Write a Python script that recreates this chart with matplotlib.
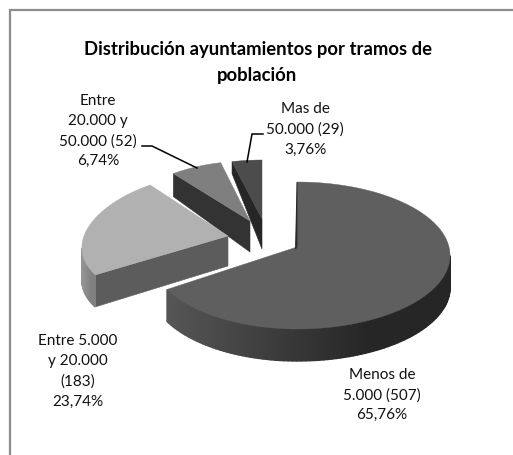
import numpy as np
import matplotlib
matplotlib.use("Agg")
import matplotlib.pyplot as plt
from matplotlib.patches import Polygon

# ---- data ----
categories = ["Menos de\n5.000 (507)\n65,76%",
              "Entre 5.000\ny 20.000\n(183)\n23,74%",
              "Entre\n20.000 y\n50.000 (52)\n6,74%",
              "Mas de\n50.000 (29)\n3,76%"]
values = [507, 183, 52, 29]
title = "Distribución ayuntamientos por tramos de\npoblación"

# ---- styling / projection of each exploded slice ----
top_colors = ["#5f5f5f", "#b1b1b1", "#7f7f7f", "#4c4c4c"]
face_colors = ["#2a2a2a", "#5c5c5c", "#333333", "#262626"]
side_colors = [("#565656", "#262626"), ("#949494", "#808080"), ("#333333", "#333333"), ("#262626", "#262626")]
apex = [(297, 248), (228, 237), (250, 222), (262, 220)]
a_left = [145.6, 144, 125, 128]
a_right = [152, 144, 125, 128]
k_vert = [72.5, 68.2, 60, 59]
p_vert = [0.1156, 0.071, 0.0, 0.0]
q_horiz = [0.1156, 0.17, 0.0, 0.0]
depth_apex = [33, 30, 31, 30]
depth_rim = [32, 32, 23, 12]
label_pos = [(382, 395), (78, 371.5), (98, 131), (305, 129.5)]

W, H = 513, 456
fig = plt.figure(figsize=(W / 100, H / 100), dpi=100)
ax = fig.add_axes([0, 0, 1, 1])
ax.set_xlim(0, W)
ax.set_ylim(H, 0)
ax.axis("off")
ax.plot([9.5, 9.5, W], [H, 11, 11], color="#8c8c8c", lw=1.6, solid_joinstyle="miter")

fracs = np.array(values) / np.sum(values)
edges = np.concatenate([[0], np.cumsum(fracs)]) * 2 * np.pi


def rim(i, th):
    ax0, ay0 = apex[i]
    c, s = np.cos(th), np.sin(th)
    a = np.where(s < 0, a_left[i], a_right[i])
    return ax0 + a * s / (1 + q_horiz[i] * c), ay0 - k_vert[i] * c / (1 + p_vert[i] * c)


def blend(c1, c2, t):
    a = np.array(matplotlib.colors.to_rgb(c1))
    b = np.array(matplotlib.colors.to_rgb(c2))
    return a + (b - a) * t


for i in [3, 2, 1, 0]:
    th = np.linspace(edges[i], edges[i + 1], 160)
    x, y = rim(i, th)
    ax0, ay0 = apex[i]
    dr, da = depth_rim[i], depth_apex[i]
    if i > 0:
        # cut face on the start side
        pts = [(x[0], y[0]), (ax0, ay0), (ax0, ay0 + da), (x[0], y[0] + dr)]
        ax.add_patch(Polygon(pts, fc=face_colors[i], ec=face_colors[i], lw=0.4, zorder=2))
    else:
        ax.add_patch(Polygon([(x[0], y[0]), (ax0, ay0), (ax0 - 1.5, ay0 + 2)], fc=face_colors[0],
                             ec=face_colors[0], lw=0.6, zorder=6))
    # outer wall, only where the rim faces the viewer
    if i < 2:
        vis = np.where(np.cos(th) < -q_horiz[i])[0]
        order = vis[:-1]
        for k in order:
            t = (x[k] - x[vis].min()) / max(x[vis].max() - x[vis].min(), 1)
            col = blend(side_colors[i][0], side_colors[i][1], min(1, t * 1.4))
            seg = [(x[k], y[k]), (x[k + 1], y[k + 1]), (x[k + 1], y[k + 1] + dr), (x[k], y[k] + dr)]
            ax.add_patch(Polygon(seg, fc=col, ec=col, lw=1.0, zorder=3))
    # top face
    ax.add_patch(Polygon([(ax0, ay0)] + list(zip(x, y)), fc=top_colors[i], ec=top_colors[i], lw=0.3, zorder=5))

# leader lines
ax.plot([142, 152, 197], [147, 147, 169], color="black", lw=1.1, zorder=6, solid_joinstyle="miter")
ax.plot([263, 252, 247], [135, 135, 163], color="black", lw=1.1, zorder=6, solid_joinstyle="miter")

ax.text(257.5, 62.5, title, ha="center", va="center", fontsize=13.3, fontweight="bold",
        family="Lato", linespacing=1.63, color="black", zorder=7)
for (lx, ly), lab in zip(label_pos, categories):
    ax.text(lx, ly, lab, ha="center", va="center", fontsize=11, family="Lato",
            linespacing=1.55, color="#111111", zorder=7)

fig.savefig("out.png", dpi=100)
